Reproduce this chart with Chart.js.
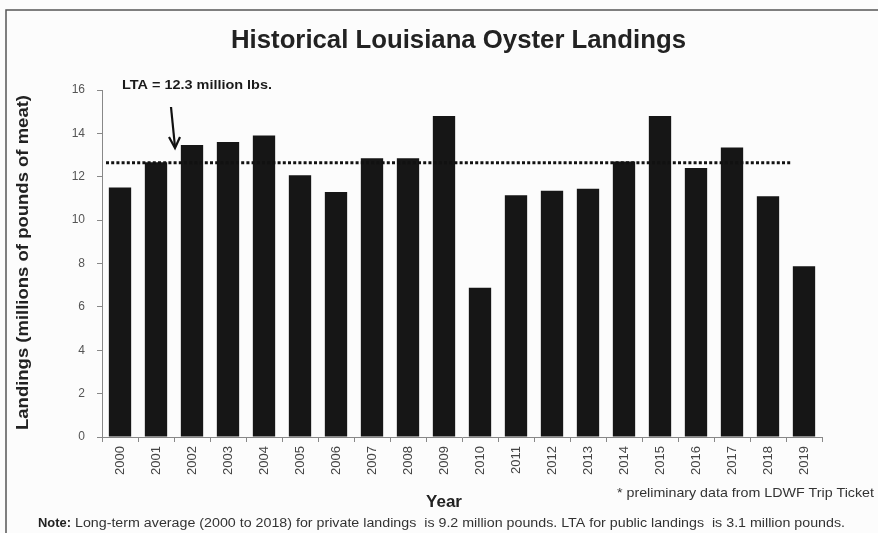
<!DOCTYPE html>
<html>
<head>
<meta charset="utf-8">
<script src="https://cdn.jsdelivr.net/npm/chart.js@4.4.1/dist/chart.umd.min.js"></script>
<style>
html,body{margin:0;padding:0;background:#fcfcfc;}
#wrap{position:relative;width:878px;height:533px;}
</style>
</head>
<body>
<div id="wrap"><canvas id="c" width="878" height="533"></canvas></div>
<script>
const years = ['2000','2001','2002','2003','2004','2005','2006','2007','2008','2009','2010','2011','2012','2013','2014','2015','2016','2017','2018','2019'];
const landings = [11.5, 12.67, 13.46, 13.6, 13.9, 12.07, 11.3, 12.85, 12.85, 14.8, 6.88, 11.15, 11.35, 11.45, 12.7, 14.8, 12.4, 13.35, 11.1, 7.87];
const ltaLineValue = [12.65];
const titleText = 'Historical Louisiana Oyster Landings';
const ltaLabel = 'LTA = 12.3 million lbs.';
const yTitle = 'Landings (millions of pounds of meat)';
const xTitle = 'Year';
const footnote = '* preliminary data from LDWF Trip Ticket';
const noteBold = 'Note:';
const noteText = ' Long-term average (2000 to 2018) for private landings  is 9.2 million pounds. LTA for public landings  is 3.1 million pounds.';

const FAM = '"Liberation Sans", Arial, sans-serif';

// draw text stretched/compressed horizontally to a given width (left aligned at x)
function fitText(ctx, text, x, y, width) {
  const w = ctx.measureText(text).width;
  ctx.save();
  ctx.translate(x, y);
  ctx.scale(width / w, 1);
  ctx.textAlign = 'left';
  ctx.fillText(text, 0, 0);
  ctx.restore();
}

const overlay = {
  id: 'overlay',
  beforeDraw(chart) {
    const ctx = chart.ctx;
    ctx.save();
    ctx.fillStyle = '#fcfcfc';
    ctx.fillRect(0, 0, chart.width, chart.height);
    ctx.strokeStyle = '#555';
    ctx.lineWidth = 1.5;
    ctx.beginPath();
    ctx.moveTo(6, 533);
    ctx.lineTo(6, 10);
    ctx.lineTo(878, 10);
    ctx.stroke();
    ctx.restore();
  },
  afterDatasetsDraw(chart) {
    const ctx = chart.ctx;
    const xs = chart.scales.x, ys = chart.scales.y;
    const meta = chart.getDatasetMeta(0);
    ctx.save();
    // dotted LTA line
    const yL = ys.getPixelForValue(ltaLineValue[0]);
    const lastBar = meta.data[meta.data.length - 1];
    const xEnd = lastBar.x - lastBar.width / 2 - 1;
    ctx.strokeStyle = '#111';
    ctx.lineWidth = 3;
    ctx.setLineDash([3, 2.2]);
    ctx.beginPath();
    ctx.moveTo(xs.left + 4, yL);
    ctx.lineTo(xEnd, yL);
    ctx.stroke();
    ctx.setLineDash([]);
    // arrow
    const ax = xs.getPixelForValue(1) + 18;
    ctx.lineWidth = 2.2;
    ctx.strokeStyle = '#111';
    ctx.beginPath();
    ctx.moveTo(ax - 3, 107);
    ctx.lineTo(ax + 1, 147);
    ctx.stroke();
    ctx.beginPath();
    ctx.moveTo(ax - 5, 137);
    ctx.lineTo(ax + 1, 148);
    ctx.lineTo(ax + 6, 137);
    ctx.stroke();
    // title
    ctx.fillStyle = '#222';
    ctx.textBaseline = 'alphabetic';
    ctx.font = 'bold 25px ' + FAM;
    fitText(ctx, titleText, 231, 48, 455);
    // LTA label
    ctx.font = 'bold 13px ' + FAM;
    ctx.fillStyle = '#1a1a1a';
    fitText(ctx, ltaLabel, 122, 89, 150);
    // y title
    ctx.save();
    ctx.translate(28, 430);
    ctx.rotate(-Math.PI / 2);
    ctx.font = 'bold 16.5px ' + FAM;
    ctx.fillStyle = '#222';
    fitText(ctx, yTitle, 0, 0, 335);
    ctx.restore();
    // x title
    ctx.textAlign = 'center';
    ctx.font = 'bold 17px ' + FAM;
    ctx.fillStyle = '#222';
    ctx.fillText(xTitle, 444, 507);
    // footnote
    ctx.font = '13.5px ' + FAM;
    ctx.fillStyle = '#333';
    fitText(ctx, footnote, 617, 497, 257);
    // note
    ctx.font = 'bold 12.5px ' + FAM;
    ctx.fillStyle = '#222';
    const bw = ctx.measureText(noteBold).width;
    fitText(ctx, noteBold, 38, 527, 33);
    ctx.font = '12.5px ' + FAM;
    ctx.fillStyle = '#333';
    fitText(ctx, noteText, 71, 527, 845 - 71);
    ctx.restore();
  }
};

new Chart(document.getElementById('c'), {
  type: 'bar',
  data: {
    labels: years,
    datasets: [{
      data: landings,
      backgroundColor: '#161616',
      borderWidth: 0,
      categoryPercentage: 1,
      barPercentage: 0.62
    }]
  },
  options: {
    responsive: false,
    animation: false,
    devicePixelRatio: 1,
    layout: { padding: { top: 90, right: 56, bottom: 0, left: 0 } },
    plugins: { legend: { display: false }, title: { display: false }, tooltip: { enabled: false } },
    scales: {
      x: {
        offset: true,
        ticks: { maxRotation: 90, minRotation: 90, color: '#444', font: { size: 13, family: FAM }, padding: 4 },
        grid: { drawOnChartArea: false, drawTicks: true, tickLength: 5, color: '#888', offset: true },
        border: { color: '#888', width: 1 },
        afterFit(s) { s.height = 533 - 437; }
      },
      y: {
        min: 0, max: 16,
        ticks: { stepSize: 2, color: '#555', font: { size: 12, family: FAM }, padding: 12 },
        grid: { drawOnChartArea: false, drawTicks: true, tickLength: 5, color: '#888' },
        border: { color: '#888', width: 1 },
        afterFit(s) { s.width = 102; }
      }
    }
  },
  plugins: [overlay]
});
</script>
</body>
</html>
